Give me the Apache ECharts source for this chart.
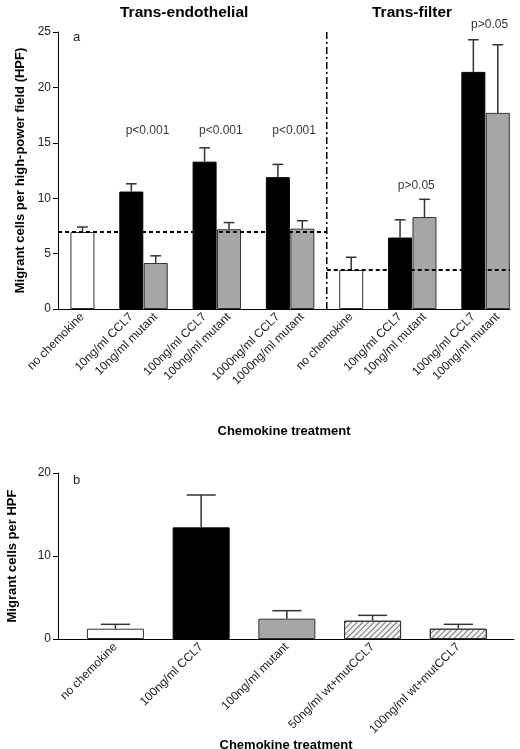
<!DOCTYPE html>
<html>
<head>
<meta charset="utf-8">
<script src="https://cdn.jsdelivr.net/npm/echarts@6/dist/echarts.min.js"></script>
<style>
  html, body { margin: 0; padding: 0; background: #fff; }
  #chart { width: 520px; height: 749px; }
</style>
</head>
<body>
<div id="chart"></div>
<script>
// panel a: groups of bars (trans-endothelial first 4 groups, trans-filter last 3)
var groupsA = [
  ['no chemokine'],
  ['10ng/ml CCL7', '10ng/ml mutant'],
  ['100ng/ml CCL7', '100ng/ml mutant'],
  ['1000ng/ml CCL7', '1000ng/ml mutant'],
  ['no chemokine'],
  ['10ng/ml CCL7', '10ng/ml mutant'],
  ['100ng/ml CCL7', '100ng/ml mutant']
];
var meansA = [6.95, 10.6, 4.15, 13.3, 7.2, 11.9, 7.25, 3.52, 6.45, 8.3, 21.4, 17.7];
var errA   = [0.45, 0.7, 0.65, 1.25, 0.6, 1.15, 0.72, 1.15, 1.6, 1.6, 2.9, 6.15];
var pTextA  = ['p<0.001', 'p<0.001', 'p<0.001', 'p>0.05', 'p>0.05'];
var pGroupA = [1, 2, 3, 5, 6];
var pYA     = [16.1, 16.1, 16.1, 11.1, 25.7];
var yTicksA = [0, 5, 10, 15, 20, 25];

// panel b
var catsB  = ['no chemokine', '100ng/ml CCL7', '100ng/ml mutant', '50ng/ml wt+mutCCL7', '100ng/ml wt+mutCCL7'];
var meansB = [1.24, 13.45, 2.45, 2.2, 1.24];
var errB   = [0.53, 3.9, 0.96, 0.65, 0.53];
var yTicksB = [0, 10, 20];

var FONT = 'Liberation Sans, Arial, sans-serif';

// lay the panel a groups out with one empty slot between groups
var posA = [], labelsA = [], groupStart = [];
var p = 1;
groupsA.forEach(function (g) {
  groupStart.push(p);
  g.forEach(function (name) { posA.push(p); labelsA.push(name); p++; });
  p++;
});
var maxA = posA[posA.length - 1] + 0.5;
var dividerA = groupStart[4] - 1;

function fillFor(name) {
  if (name.indexOf('wt+mut') >= 0) {
    return { color: '#f4f4f4', borderColor: '#333', borderWidth: 1,
      decal: { symbol: 'rect', color: '#777', dashArrayX: [1, 0], dashArrayY: [1, 2.5], rotation: -Math.PI / 4, symbolSize: 1 } };
  }
  if (name.indexOf('mutant') >= 0) return { color: '#a6a6a6', borderColor: '#333', borderWidth: 1 };
  if (name.indexOf('CCL7') >= 0) return { color: '#000', borderColor: '#000', borderWidth: 1 };
  return { color: '#fff', borderColor: '#333', borderWidth: 1 };
}

function errorBar(params, api) {
  var x = api.value(0);
  var lo = api.coord([x, api.value(1)]);
  var hi = api.coord([x, api.value(2)]);
  var half = api.size([api.value(3), 0])[0];
  var st = { stroke: '#333', lineWidth: 1.5 };
  return {
    type: 'group',
    children: [
      { type: 'line', shape: { x1: lo[0], y1: lo[1], x2: hi[0], y2: hi[1] }, style: st },
      { type: 'line', shape: { x1: hi[0] - half, y1: hi[1], x2: hi[0] + half, y2: hi[1] }, style: st }
    ]
  };
}

var axisText = { fontFamily: FONT, fontSize: 12, color: '#222' };
var xLine = { onZero: false, lineStyle: { color: '#000', width: 1 } };
var yLine = { show: true, onZero: false, lineStyle: { color: '#000', width: 1 } };
var nameText = { fontFamily: FONT, fontSize: 13, fontWeight: 'bold', color: '#000' };

var barsA = posA.map(function (x, i) {
  return { value: [x, meansA[i]], itemStyle: fillFor(labelsA[i]) };
});
var errsA = posA.map(function (x, i) { return [x, meansA[i], meansA[i] + errA[i], 0.22]; });

var posB = catsB.map(function (c, i) { return i; });
var barsB = posB.map(function (x, i) {
  return { value: [x, meansB[i]], itemStyle: fillFor(catsB[i]) };
});
var errsB = posB.map(function (x, i) { return [x, meansB[i], meansB[i] + errB[i], 0.17]; });

var pData = pTextA.map(function (t, i) {
  var g = groupStart[pGroupA[i]];
  return { value: [g + 0.5, pYA[i]], label: { formatter: t } };
});

var chart = echarts.init(document.getElementById('chart'), null, { renderer: 'canvas' });
chart.setOption({
  animation: false,
  backgroundColor: '#fff',
  graphic: [
    { type: 'text', left: 120, top: 5, style: { text: 'Trans-endothelial', font: 'bold 15.5px ' + FONT, fill: '#000' } },
    { type: 'text', left: 372, top: 5, style: { text: 'Trans-filter', font: 'bold 15.5px ' + FONT, fill: '#000' } },
    { type: 'text', left: 73, top: 31, style: { text: 'a', font: '13px ' + FONT, fill: '#222' } },
    { type: 'text', left: 73, top: 474, style: { text: 'b', font: '13px ' + FONT, fill: '#222' } }
  ],
  grid: [
    { left: 58, top: 32, right: 10, bottom: 440, outerBoundsMode: 'none' },
    { left: 58, top: 473, right: 6, bottom: 110, outerBoundsMode: 'none' }
  ],
  xAxis: [
    {
      gridIndex: 0, type: 'value', min: 0, max: maxA,
      name: 'Chemokine treatment', nameLocation: 'middle', nameGap: 116, nameTextStyle: nameText,
      axisLine: xLine, axisTick: { show: false }, splitLine: { show: false },
      axisLabel: Object.assign({
        customValues: posA, rotate: 45, margin: 6,
        formatter: function (v) { return labelsA[posA.indexOf(v)] || ''; }
      }, axisText)
    },
    {
      gridIndex: 1, type: 'value', min: -0.67, max: 4.65,
      name: 'Chemokine treatment', nameLocation: 'middle', nameGap: 98, nameTextStyle: nameText,
      axisLine: xLine, axisTick: { show: false }, splitLine: { show: false },
      axisLabel: Object.assign({
        customValues: posB, rotate: 45, margin: 6,
        formatter: function (v) { return catsB[v] || ''; }
      }, axisText)
    }
  ],
  yAxis: [
    {
      gridIndex: 0, type: 'value', min: 0, max: 25, interval: 5,
      name: 'Migrant cells per high-power field (HPF)', nameLocation: 'middle', nameGap: 28, nameTextStyle: nameText,
      axisLine: yLine,
      axisTick: { show: true, length: 5, lineStyle: { color: '#000' } },
      splitLine: { show: false },
      axisLabel: Object.assign({ margin: 7, customValues: yTicksA }, axisText)
    },
    {
      gridIndex: 1, type: 'value', min: 0, max: 20, interval: 10,
      name: 'Migrant cells per HPF', nameLocation: 'middle', nameGap: 39, nameTextStyle: nameText,
      axisLine: yLine,
      axisTick: { show: true, length: 5, lineStyle: { color: '#000' } },
      splitLine: { show: false },
      axisLabel: Object.assign({ margin: 7, customValues: yTicksB }, axisText)
    }
  ],
  series: [
    { type: 'bar', xAxisIndex: 0, yAxisIndex: 0, barWidth: 24, data: barsA, silent: true },
    { type: 'custom', xAxisIndex: 0, yAxisIndex: 0, renderItem: errorBar, data: errsA, silent: true, z: 3, clip: false },
    {
      type: 'line', xAxisIndex: 0, yAxisIndex: 0, symbol: 'none', silent: true, z: 4,
      lineStyle: { color: '#000', width: 2, type: [4, 3] },
      data: [[0, meansA[0]], [dividerA, meansA[0]]]
    },
    {
      type: 'line', xAxisIndex: 0, yAxisIndex: 0, symbol: 'none', silent: true, z: 4,
      lineStyle: { color: '#000', width: 2, type: [4, 3] },
      data: [[dividerA, meansA[7]], [maxA, meansA[7]]]
    },
    {
      type: 'line', xAxisIndex: 0, yAxisIndex: 0, symbol: 'none', silent: true, z: 4,
      lineStyle: { color: '#000', width: 1.5, type: [7, 3, 2, 3] },
      data: [[dividerA, 0], [dividerA, 25]]
    },
    {
      type: 'scatter', xAxisIndex: 0, yAxisIndex: 0, symbolSize: 0, silent: true, clip: false,
      label: { show: true, position: 'inside', offset: [4, 0], fontFamily: FONT, fontSize: 12, color: '#000' },
      data: pData
    },
    { type: 'bar', xAxisIndex: 1, yAxisIndex: 1, barWidth: 57, data: barsB, silent: true },
    { type: 'custom', xAxisIndex: 1, yAxisIndex: 1, renderItem: errorBar, data: errsB, silent: true, z: 3, clip: false }
  ]
});
</script>
</body>
</html>
